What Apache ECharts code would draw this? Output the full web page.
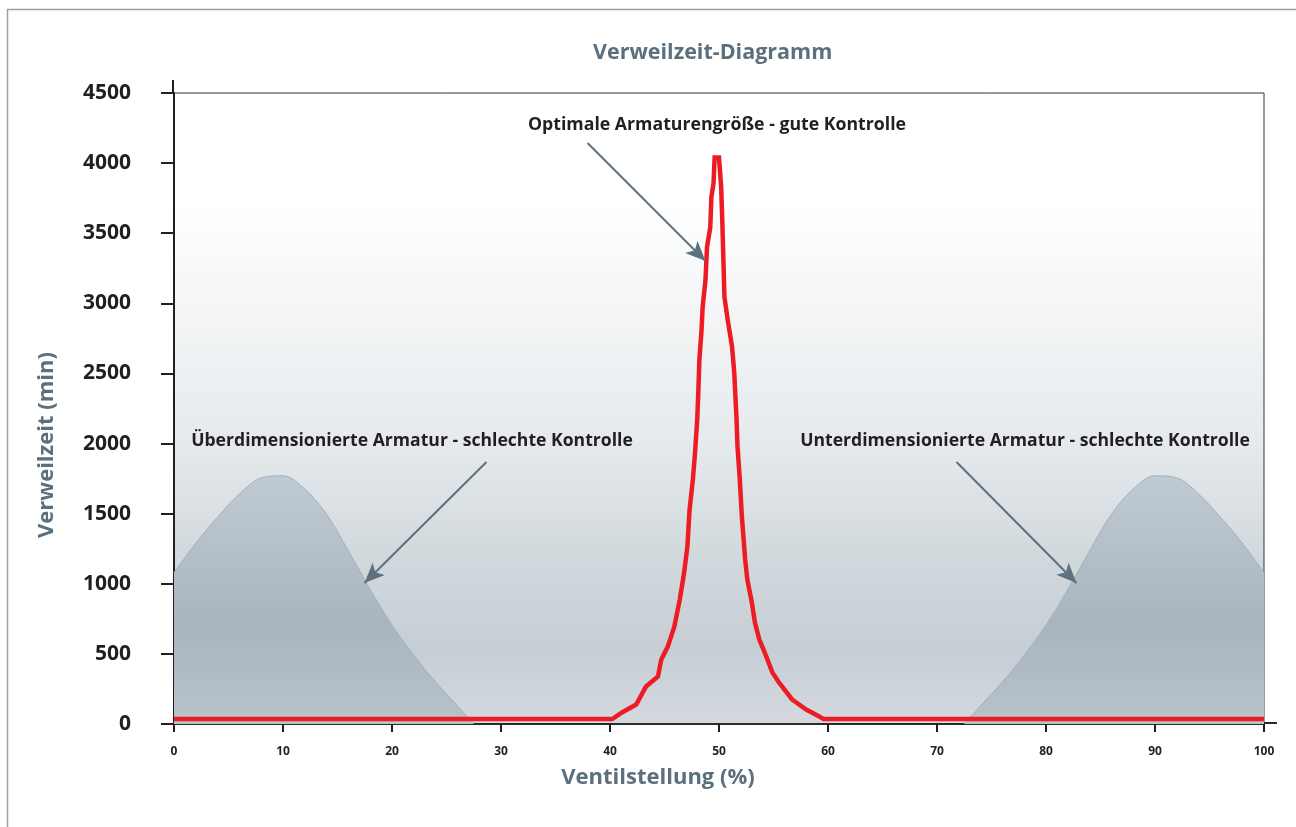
<!DOCTYPE html>
<html>
<head>
<meta charset="utf-8">
<script src="https://cdn.jsdelivr.net/npm/echarts@6/dist/echarts.min.js"></script>
<style>
html,body{margin:0;padding:0;background:#fff;}
#chart{width:1296px;height:827px;}
</style>
</head>
<body>
<div id="chart"></div>
<script>
// ---- data ----
const xTicks = [0, 10, 20, 30, 40, 50, 60, 70, 80, 90, 100];
const yTicks = [0, 500, 1000, 1500, 2000, 2500, 3000, 3500, 4000, 4500];

// optimal valve (red)
const redX = [0, 40.2, 41.1, 42.4, 43.3, 44.4, 44.7, 45.3, 45.9, 46.4, 46.8, 47.1, 47.3, 47.6, 47.8, 48.0, 48.1, 48.2, 48.4, 48.5, 48.76, 48.9, 49.2, 49.3, 49.5, 49.6, 50.0, 50.2, 50.3, 50.5, 50.8, 51.2, 51.4, 51.6, 51.7, 51.9, 52.1, 52.4, 52.6, 53.0, 53.3, 53.7, 54.2, 54.9, 55.5, 56.7, 58.0, 59.2, 59.6, 100];
const redY = [35, 35, 82, 139, 267, 338, 459, 552, 694, 887, 1079, 1264, 1528, 1741, 1934, 2169, 2361, 2596, 2810, 2974, 3166, 3400, 3543, 3757, 3857, 4040, 4040, 3828, 3593, 3045, 2881, 2689, 2504, 2190, 1976, 1755, 1478, 1172, 1029, 872, 722, 602, 509, 367, 296, 175, 103, 53, 35, 35];

// oversized valve (left hump)
const overX = [0, 2, 4, 6, 8, 10, 12, 14, 16, 18, 20, 22, 24, 26, 27.5];
const overY = [1080, 1290, 1475, 1640, 1755, 1770, 1675, 1495, 1235, 960, 705, 490, 300, 130, 0];

// undersized valve (right hump)
const underX = [72.5, 74, 76, 78, 80, 82, 84, 86, 88, 90, 92, 94, 96, 98, 100];
const underY = [0, 130, 300, 490, 705, 960, 1235, 1495, 1675, 1770, 1755, 1640, 1475, 1290, 1080];

// annotation arrows (data coordinates): start -> tip
const arrowStartX = [37.94, 28.67, 71.79];
const arrowStartY = [4144, 1869, 1869];
const arrowEndX = [48.76, 17.48, 82.8];
const arrowEndY = [3302, 1006, 1006];

const titleText = 'Verweilzeit-Diagramm';
const xName = 'Ventilstellung (%)';
const yName = 'Verweilzeit (min)';
const noteOptimal = 'Optimale Armaturengröße - gute Kontrolle';
const noteOver = 'Überdimensionierte Armatur - schlechte Kontrolle';
const noteUnder = 'Unterdimensionierte Armatur - schlechte Kontrolle';

// ---- chart ----
const FONT = '"Open Sans", "DejaVu Sans", sans-serif';
const zip = (xs, ys) => xs.map((x, i) => [x, ys[i]]);

const humpFill = {
  type: 'linear', x: 0, y: 0, x2: 0, y2: 1,
  colorStops: [
    {offset: 0, color: '#c0cad2'},
    {offset: 0.6, color: '#a8b5bf'},
    {offset: 1, color: '#b8c3cb'}
  ]
};

const chart = echarts.init(document.getElementById('chart'), null, {renderer: 'canvas'});
chart.setOption({
  animation: false,
  backgroundColor: '#ffffff',
  title: {
    text: titleText,
    left: 588, top: 37,
    textStyle: {fontFamily: FONT, fontSize: 21.5, fontWeight: 'bold', color: '#5b6f7c'}
  },
  grid: {
    left: 174, right: 32, top: 93, bottom: 103,
    show: true,
    borderColor: '#333333', borderWidth: 1,
    backgroundColor: {
      type: 'linear', x: 0, y: 0, x2: 0, y2: 1,
      colorStops: [
        {offset: 0, color: '#ffffff'},
        {offset: 0.17, color: '#ffffff'},
        {offset: 0.35, color: '#f3f5f6'},
        {offset: 0.55, color: '#e6eaed'},
        {offset: 0.72, color: '#d3dade'},
        {offset: 0.88, color: '#c6ced5'},
        {offset: 1, color: '#d3d9de'}
      ]
    }
  },
  xAxis: {
    type: 'value', min: xTicks[0], max: xTicks[xTicks.length - 1], interval: 10,
    axisLine: {show: true, onZero: false, lineStyle: {color: '#2b2b2b', width: 2}},
    axisTick: {show: true, length: 8, lineStyle: {color: '#231f20', width: 2}},
    axisLabel: {margin: 22, fontFamily: FONT, fontSize: 12, fontWeight: 'bold', color: '#231f20',
      formatter: v => String(v)},
    splitLine: {show: false}
  },
  yAxis: {
    type: 'value', min: yTicks[0], max: yTicks[yTicks.length - 1], interval: 500,
    axisLine: {show: true, lineStyle: {color: '#231f20', width: 2}},
    axisTick: {show: true, length: 13, lineStyle: {color: '#231f20', width: 2}},
    axisLabel: {margin: 43, fontFamily: FONT, fontSize: 21, fontWeight: 'bold', color: '#231f20',
      formatter: v => String(v)},
    splitLine: {show: false}
  },
  series: [
    {
      name: 'Überdimensioniert', type: 'line', data: zip(overX, overY),
      smooth: 0.35, showSymbol: false, z: 2,
      lineStyle: {color: '#9fb0bc', width: 1},
      areaStyle: {color: humpFill, opacity: 1}
    },
    {
      name: 'Unterdimensioniert', type: 'line', data: zip(underX, underY),
      smooth: 0.35, showSymbol: false, z: 2,
      lineStyle: {color: '#9fb0bc', width: 1},
      areaStyle: {color: humpFill, opacity: 1}
    },
    {
      name: 'Optimal', type: 'line', data: zip(redX, redY),
      showSymbol: false, z: 4,
      lineStyle: {color: '#ed1c24', width: 4.5, join: 'miter'}
    },
    {
      name: 'Pfeile', type: 'line', data: [], z: 5,
      markLine: {
        silent: true, animation: false,
        symbol: ['none', 'arrow'], symbolSize: [13, 20],
        label: {show: false},
        lineStyle: {color: '#5d717e', width: 2, type: 'solid'},
        data: arrowStartX.map((x, i) => [
          {coord: [x, arrowStartY[i]]},
          {coord: [arrowEndX[i], arrowEndY[i]]}
        ])
      }
    }
  ],
  graphic: [
    {type: 'rect', shape: {x: 7.5, y: 9.5, width: 1400, height: 1000}, style: {fill: 'none', stroke: '#98a4ad', lineWidth: 1.5}, silent: true, z: -10},
    {type: 'line', shape: {x1: 173, y1: 80, x2: 173, y2: 94}, style: {stroke: '#231f20', lineWidth: 2}, silent: true},
    {type: 'line', shape: {x1: 1263, y1: 723, x2: 1277, y2: 723}, style: {stroke: '#2b2b2b', lineWidth: 2}, silent: true},
    {type: 'text', x: 717, y: 125, style: {text: noteOptimal, fontFamily: FONT, fontSize: 17.7, fontWeight: 'bold', fill: '#231f20', align: 'center', verticalAlign: 'middle'}, z: 10},
    {type: 'text', x: 412, y: 441, style: {text: noteOver, fontFamily: FONT, fontSize: 17.6, fontWeight: 'bold', fill: '#231f20', align: 'center', verticalAlign: 'middle'}, z: 10},
    {type: 'text', x: 1025, y: 441, style: {text: noteUnder, fontFamily: FONT, fontSize: 17.6, fontWeight: 'bold', fill: '#231f20', align: 'center', verticalAlign: 'middle'}, z: 10},
    {type: 'text', x: 658, y: 778, style: {text: xName, fontFamily: FONT, fontSize: 22, fontWeight: 'bold', fill: '#5b6f7c', align: 'center', verticalAlign: 'middle'}},
    {type: 'text', x: 47, y: 445, rotation: Math.PI / 2, style: {text: yName, fontFamily: FONT, fontSize: 22, fontWeight: 'bold', fill: '#5b6f7c', align: 'center', verticalAlign: 'middle'}}
  ]
});
</script>
</body>
</html>
